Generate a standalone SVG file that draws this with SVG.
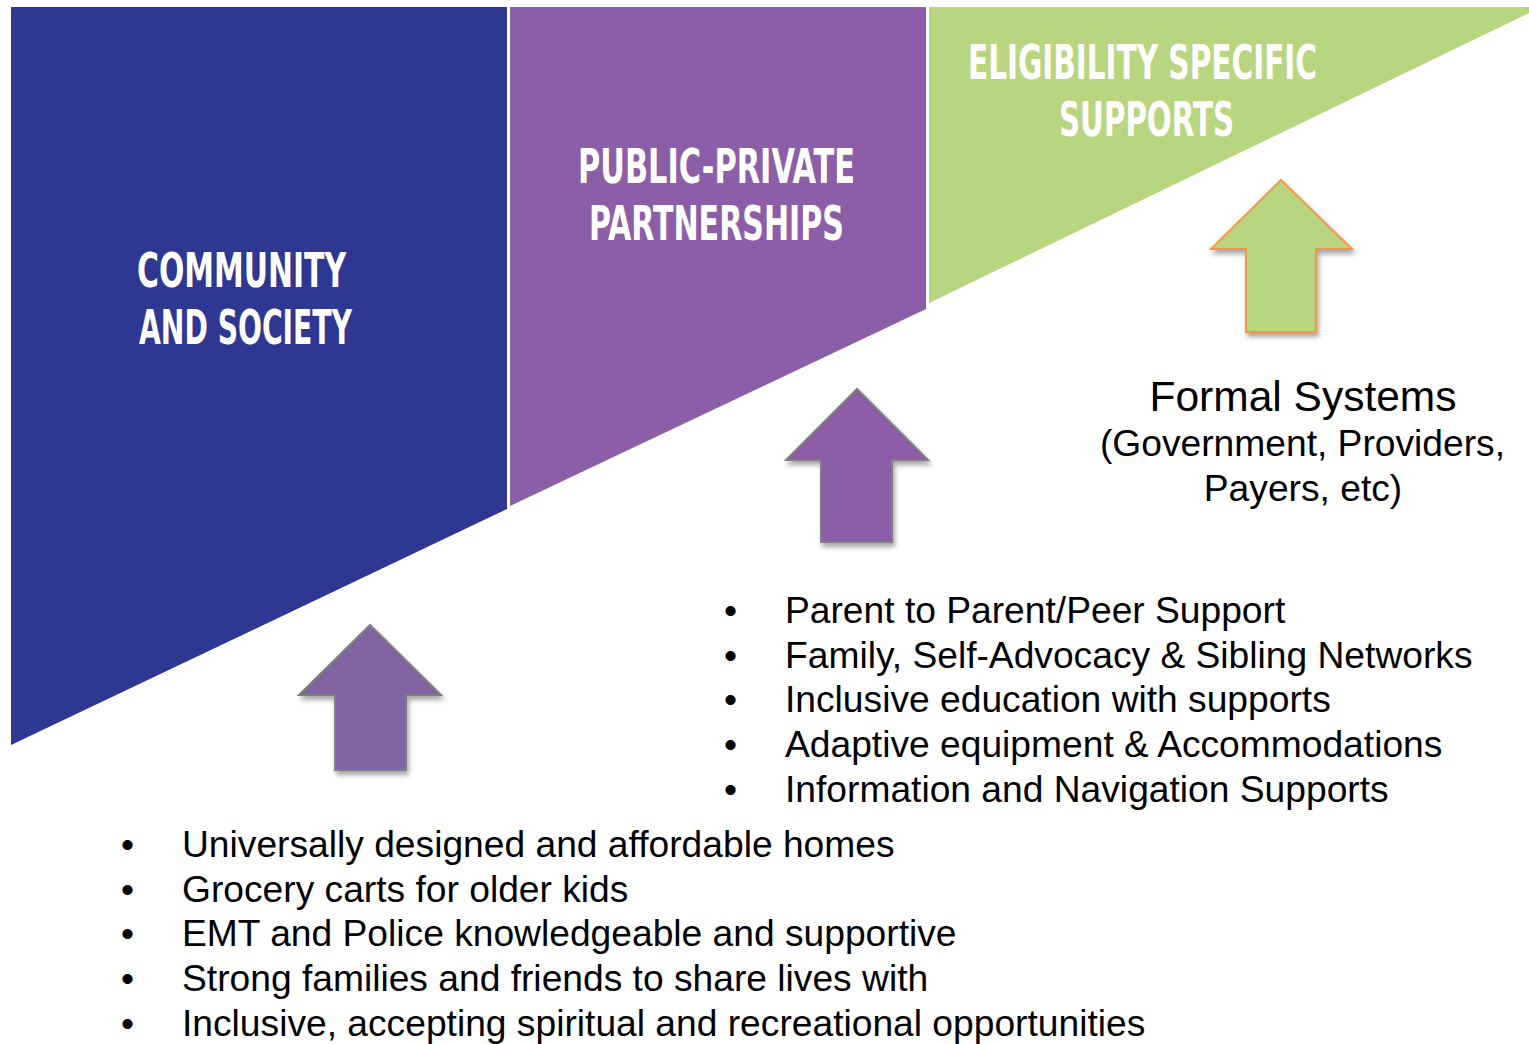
<svg xmlns="http://www.w3.org/2000/svg" width="1529" height="1044" viewBox="0 0 1529 1044">
<style>
.head{font-family:"Liberation Sans Narrow","DejaVu Sans Condensed","Liberation Sans",sans-serif;font-weight:bold;font-size:48px;fill:#ffffff;text-anchor:middle}
.body{font-family:"Liberation Sans",Arial,sans-serif;font-size:37.2px;fill:#000000}
.mid{text-anchor:middle}
.big{font-size:42.5px}
</style>
<defs>
<filter id="sh" x="-20%" y="-20%" width="150%" height="150%">
<feDropShadow dx="2" dy="4" stdDeviation="2.5" flood-color="#000000" flood-opacity="0.35"/>
</filter>
</defs>
<rect width="1529" height="1044" fill="#ffffff"/>
<g id="community">
<polygon points="11,7 507,7 507,509 11,745" fill="#2E3791"/>
<text class="head" x="241.5" y="287" textLength="209" lengthAdjust="spacingAndGlyphs">COMMUNITY</text>
<text class="head" x="245.5" y="344" textLength="213" lengthAdjust="spacingAndGlyphs">AND SOCIETY</text>
</g>
<g id="public-private">
<polygon points="510,7 926,7 926,309 510,506" fill="#8C5EA7"/>
<text class="head" x="716.5" y="183" textLength="277" lengthAdjust="spacingAndGlyphs">PUBLIC-PRIVATE</text>
<text class="head" x="716.5" y="240" textLength="255" lengthAdjust="spacingAndGlyphs">PARTNERSHIPS</text>
</g>
<g id="eligibility">
<polygon points="929,7 1529,7 1529,13 929,303" fill="#B8D680"/>
<text class="head" x="1142.5" y="79" textLength="349" lengthAdjust="spacingAndGlyphs">ELIGIBILITY SPECIFIC</text>
<text class="head" x="1146.5" y="136" textLength="175" lengthAdjust="spacingAndGlyphs">SUPPORTS</text>
</g>
<g id="connectors">
<polygon id="arrow-community" filter="url(#sh)" points="370,625 441,695 406,695 406,770 335,770 335,695 299,695" fill="#8064A2" stroke="#7F7F7F" stroke-width="2"/>
<polygon id="arrow-public" filter="url(#sh)" points="857,389 928,460 892,460 892,542 821,542 821,460 786,460" fill="#8B5DA6" stroke="#7F7F7F" stroke-width="2"/>
<polygon id="arrow-eligibility" filter="url(#sh)" points="1281,180 1352,249 1316,249 1316,332 1246,332 1246,249 1211,249" fill="#B8D680" stroke="#F79646" stroke-width="2"/>
</g>
<g id="formal-systems">
<text class="body mid big" x="1303" y="411">Formal Systems</text>
<text class="body mid" x="1302.5" y="456">(Government, Providers,</text>
<text class="body mid" x="1303" y="501">Payers, etc)</text>
</g>
<g id="list-public">
<text class="body" x="724" y="623">•</text><text class="body" x="785" y="623">Parent to Parent/Peer Support</text>
<text class="body" x="724" y="668">•</text><text class="body" x="785" y="668">Family, Self-Advocacy &amp; Sibling Networks</text>
<text class="body" x="724" y="712">•</text><text class="body" x="785" y="712">Inclusive education with supports</text>
<text class="body" x="724" y="757">•</text><text class="body" x="785" y="757">Adaptive equipment &amp; Accommodations</text>
<text class="body" x="724" y="802">•</text><text class="body" x="785" y="802">Information and Navigation Supports</text>
</g>
<g id="list-community">
<text class="body" x="121" y="857">•</text><text class="body" x="182" y="857">Universally designed and affordable homes</text>
<text class="body" x="121" y="902">•</text><text class="body" x="182" y="902">Grocery carts for older kids</text>
<text class="body" x="121" y="946">•</text><text class="body" x="182" y="946">EMT and Police knowledgeable and supportive</text>
<text class="body" x="121" y="991">•</text><text class="body" x="182" y="991">Strong families and friends to share lives with</text>
<text class="body" x="121" y="1036">•</text><text class="body" x="182" y="1036">Inclusive, accepting spiritual and recreational opportunities</text>
</g>
</svg>
